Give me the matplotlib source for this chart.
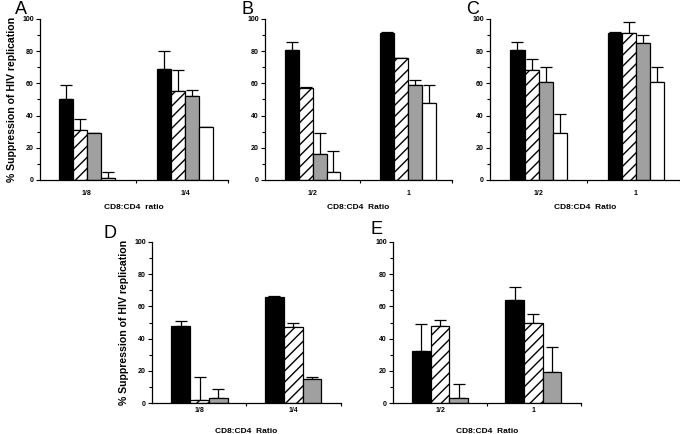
import numpy as np
import matplotlib
matplotlib.use('Agg')
import matplotlib.pyplot as plt
from matplotlib.ticker import MultipleLocator

plt.rcParams['font.family'] = ['Liberation Sans', 'DejaVu Sans']
plt.rcParams['hatch.linewidth'] = 1.0

# panel data: bar heights and upper error bar tops
a_groups = ['1/8', '1/4']
a_vals = [[50, 31, 29, 1], [69, 55, 52, 33]]
a_tops = [[59, 38, 29, 5], [80, 68, 56, 33]]

b_groups = ['1/2', '1']
b_vals = [[81, 57, 16, 5], [91, 76, 59, 48]]
b_tops = [[86, 58, 29, 18], [92, 76, 62, 59]]

c_groups = ['1/2', '1']
c_vals = [[81, 68, 61, 29], [91, 91, 85, 61]]
c_tops = [[86, 75, 70, 41], [92, 98, 90, 70]]

d_groups = ['1/8', '1/4']
d_vals = [[48, 2, 3], [66, 47, 15]]
d_tops = [[51, 16, 9], [66.5, 50, 16]]

e_groups = ['1/2', '1']
e_vals = [[32.5, 48, 3], [64, 49.5, 19]]
e_tops = [[49, 51.5, 12], [72, 55, 34.5]]

styles = [dict(color='black'),
          dict(color='white', hatch='///'),
          dict(color='#a0a0a0'),
          dict(color='white')]

fig = plt.figure(figsize=(6.8, 4.34), dpi=100)


def panel(rect, letter, groups, vals, tops, xlabel, ylabel, xlim, letter_pos,
          tpad, xpad):
    ax = fig.add_axes(rect)
    nb = len(vals[0])
    w = 0.145 if nb == 4 else 0.2
    for i in range(nb):
        x = np.arange(len(groups)) + (i - (nb - 1) / 2) * w
        h = [v[i] for v in vals]
        err = [max(t[i] - v[i], 0) for v, t in zip(vals, tops)]
        st = styles[i]
        ax.bar(x, h, width=w, facecolor=st['color'], edgecolor='black',
               hatch=st.get('hatch'), linewidth=0.9, zorder=2)
        ax.errorbar(x, h, yerr=[np.zeros(len(h)), err], fmt='none',
                    ecolor='black', elinewidth=0.9, capsize=4, capthick=0.9,
                    zorder=1)
    ax.set_xlim(*xlim)
    ax.set_ylim(0, 100)
    ax.yaxis.set_major_locator(MultipleLocator(20))
    ax.yaxis.set_minor_locator(MultipleLocator(10))
    ax.set_xticks([0, 1])
    ax.set_xticklabels(groups)
    ax.set_xticks([0.5, xlim[1]], minor=True)
    ax.tick_params(axis='x', which='major', length=0, pad=tpad, labelsize=5)
    ax.tick_params(axis='x', which='minor', length=2, width=0.8)
    ax.tick_params(axis='y', which='major', length=3, width=0.8, labelsize=5, pad=1.5)
    ax.tick_params(axis='y', which='minor', length=2, width=0.8)
    for t in ax.get_xticklabels() + ax.get_yticklabels():
        t.set_fontweight('bold')
    for s in ['top', 'right']:
        ax.spines[s].set_visible(False)
    for s in ['left', 'bottom']:
        ax.spines[s].set_linewidth(0.9)
    ax.set_xlabel(xlabel, fontsize=6, fontweight='bold', labelpad=xpad)
    if ylabel:
        ax.set_ylabel(ylabel, fontsize=7.6, fontweight='bold', labelpad=4)
    fig.text(letter_pos[0], letter_pos[1], letter, fontsize=13,
             ha='left', va='top')
    return ax


ylab = '% Suppression of HIV replication'
panel([0.0588, 0.5853, 0.2765, 0.371], 'A', a_groups, a_vals, a_tops,
      'CD8:CD4  ratio', ylab, (-0.48, 1.44), (0.022, 0.998), 7, 5)
panel([0.3897, 0.5853, 0.275, 0.371], 'B', b_groups, b_vals, b_tops,
      'CD8:CD4  Ratio', None, (-0.50, 1.46), (0.355, 0.998), 7, 5)
panel([0.7206, 0.5853, 0.279, 0.371], 'C', c_groups, c_vals, c_tops,
      'CD8:CD4  Ratio', None, (-0.50, 1.45), (0.686, 0.998), 7, 5)
panel([0.2235, 0.0714, 0.2779, 0.371], 'D', d_groups, d_vals, d_tops,
      'CD8:CD4  Ratio', ylab, (-0.508, 1.51), (0.152, 0.481), 3, 10)
panel([0.578, 0.0714, 0.2765, 0.371], 'E', e_groups, e_vals, e_tops,
      'CD8:CD4  Ratio', None, (-0.503, 1.51), (0.545, 0.49), 3, 10)

fig.savefig('out.png', dpi=100)
